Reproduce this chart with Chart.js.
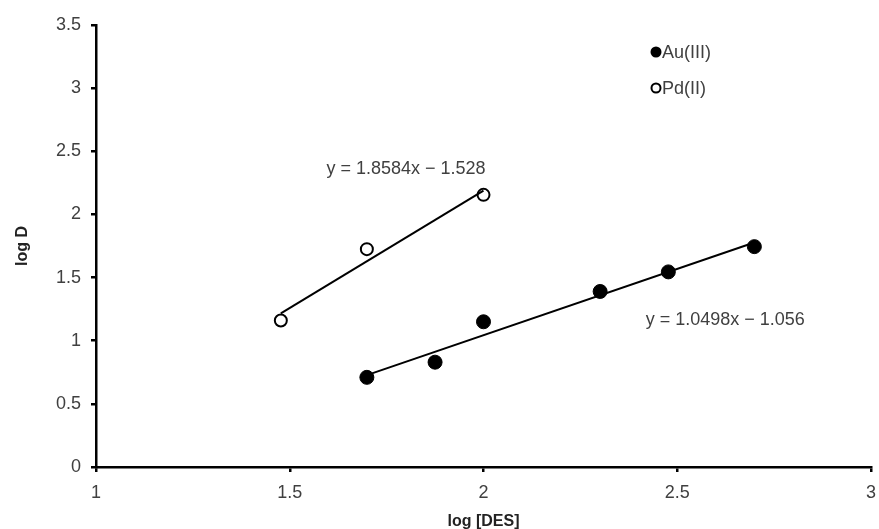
<!DOCTYPE html>
<html lang="en">
<head>
<meta charset="UTF-8">
<title>log D vs log [DES]</title>
<script src="https://cdn.jsdelivr.net/npm/chart.js"></script>
<style>
  html, body { margin: 0; padding: 0; background: #fff; }
  #wrap { width: 879px; height: 529px; }
</style>
</head>
<body>
<div id="wrap"><canvas id="chart" width="879" height="529"></canvas></div>
<script>
    // values
    const auX = [1.699, 1.875, 2.0, 2.301, 2.477, 2.699];
    const auY = [0.71, 0.83, 1.15, 1.39, 1.545, 1.745];
    const pdX = [1.477, 1.699, 2.0];
    const pdY = [1.16, 1.725, 2.155];

    // trendline equations as printed on the chart
    const auFit = [1.0498, -1.056];
    const pdFit = [1.8584, -1.528];
    const auLabel = 'y = 1.0498x \u2212 1.056';
    const pdLabel = 'y = 1.8584x \u2212 1.528';

    const xTicks = [1, 1.5, 2, 2.5, 3];
    const yTicks = [0, 0.5, 1, 1.5, 2, 2.5, 3, 3.5];

    const FONT = "'Liberation Sans', Arial, sans-serif";

    function pts(xs, ys) {
        return xs.map((x, i) => ({ x: x, y: ys[i] }));
    }
    function fitLine(xs, fit) {
        const a = Math.min(...xs), b = Math.max(...xs);
        return [{ x: a, y: fit[0] * a + fit[1] }, { x: b, y: fit[0] * b + fit[1] }];
    }

    // equation labels + small legend in the top right
    const notes = {
        id: 'notes',
        afterDatasetsDraw(chart) {
            const ctx = chart.ctx;
            const xs = chart.scales.x, ys = chart.scales.y;
            ctx.save();
            ctx.font = '18px ' + FONT;
            ctx.fillStyle = '#404040';
            ctx.textAlign = 'center';
            ctx.textBaseline = 'middle';
            ctx.fillText(pdLabel, xs.getPixelForValue(1.80), ys.getPixelForValue(2.36));
            ctx.fillText(auLabel, xs.getPixelForValue(2.624), ys.getPixelForValue(1.164));

            // legend
            const lx = 656;
            ctx.textAlign = 'left';
            ctx.lineWidth = 2;
            ctx.strokeStyle = '#000';
            ctx.fillStyle = '#000';
            ctx.beginPath(); ctx.arc(lx, 52, 5.5, 0, Math.PI * 2); ctx.fill();
            ctx.beginPath(); ctx.arc(lx, 88, 4.5, 0, Math.PI * 2);
            ctx.fillStyle = '#fff'; ctx.fill(); ctx.stroke();
            ctx.fillStyle = '#404040';
            ctx.fillText('Au(III)', lx + 6, 53);
            ctx.fillText('Pd(II)', lx + 6, 89);
            ctx.restore();
        }
    };

    const tickFmt = v => String(v);

    new Chart(document.getElementById('chart'), {
        type: 'scatter',
        data: {
            datasets: [
                {
                    label: 'Au(III) fit',
                    data: fitLine(auX, auFit),
                    showLine: true,
                    borderColor: '#000',
                    borderWidth: 2,
                    pointRadius: 0
                },
                {
                    label: 'Pd(II) fit',
                    data: fitLine(pdX, pdFit),
                    showLine: true,
                    borderColor: '#000',
                    borderWidth: 2,
                    pointRadius: 0
                },
                {
                    label: 'Au(III)',
                    data: pts(auX, auY),
                    pointRadius: 7,
                    pointBackgroundColor: '#000',
                    pointBorderColor: '#000',
                    pointBorderWidth: 1
                },
                {
                    label: 'Pd(II)',
                    data: pts(pdX, pdY),
                    pointRadius: 6,
                    pointBackgroundColor: '#fff',
                    pointBorderColor: '#000',
                    pointBorderWidth: 2
                }
            ]
        },
        options: {
            responsive: false,
            animation: false,
            layout: { padding: { top: 25, right: 0, left: 0, bottom: 0 } },
            plugins: {
                legend: { display: false },
                tooltip: { enabled: false }
            },
            scales: {
                x: {
                    type: 'linear',
                    min: 1,
                    max: 3,
                    afterBuildTicks: s => { s.ticks = xTicks.map(v => ({ value: v })); },
                    afterFit: s => { s.height = 62; s.paddingRight = 7; s.paddingLeft = 0; },
                    border: { color: '#000', width: 2.5 },
                    grid: { drawOnChartArea: false, drawTicks: true, tickLength: 5, color: '#000', lineWidth: 2.5 },
                    ticks: { color: '#404040', font: { family: FONT, size: 18 }, padding: 10, maxRotation: 0, minRotation: 0, autoSkip: false, callback: tickFmt },
                    title: { display: true, text: 'log [DES]', color: '#222', font: { family: FONT, size: 16, weight: 'bold' }, padding: { top: 2, bottom: -2 } }
                },
                y: {
                    type: 'linear',
                    min: 0,
                    max: 3.5,
                    afterBuildTicks: s => { s.ticks = yTicks.map(v => ({ value: v })); },
                    afterFit: s => { s.width = 96; },
                    border: { color: '#000', width: 2.5 },
                    grid: { drawOnChartArea: false, drawTicks: true, tickLength: 5, color: '#000', lineWidth: 2.5 },
                    ticks: { color: '#404040', font: { family: FONT, size: 18 }, padding: 10, callback: tickFmt },
                    title: { display: true, text: 'log D', color: '#222', font: { family: FONT, size: 16, weight: 'bold' }, padding: { top: 13, bottom: 0 } }
                }
            }
        },
        plugins: [notes]
    });
</script>
</body>
</html>
